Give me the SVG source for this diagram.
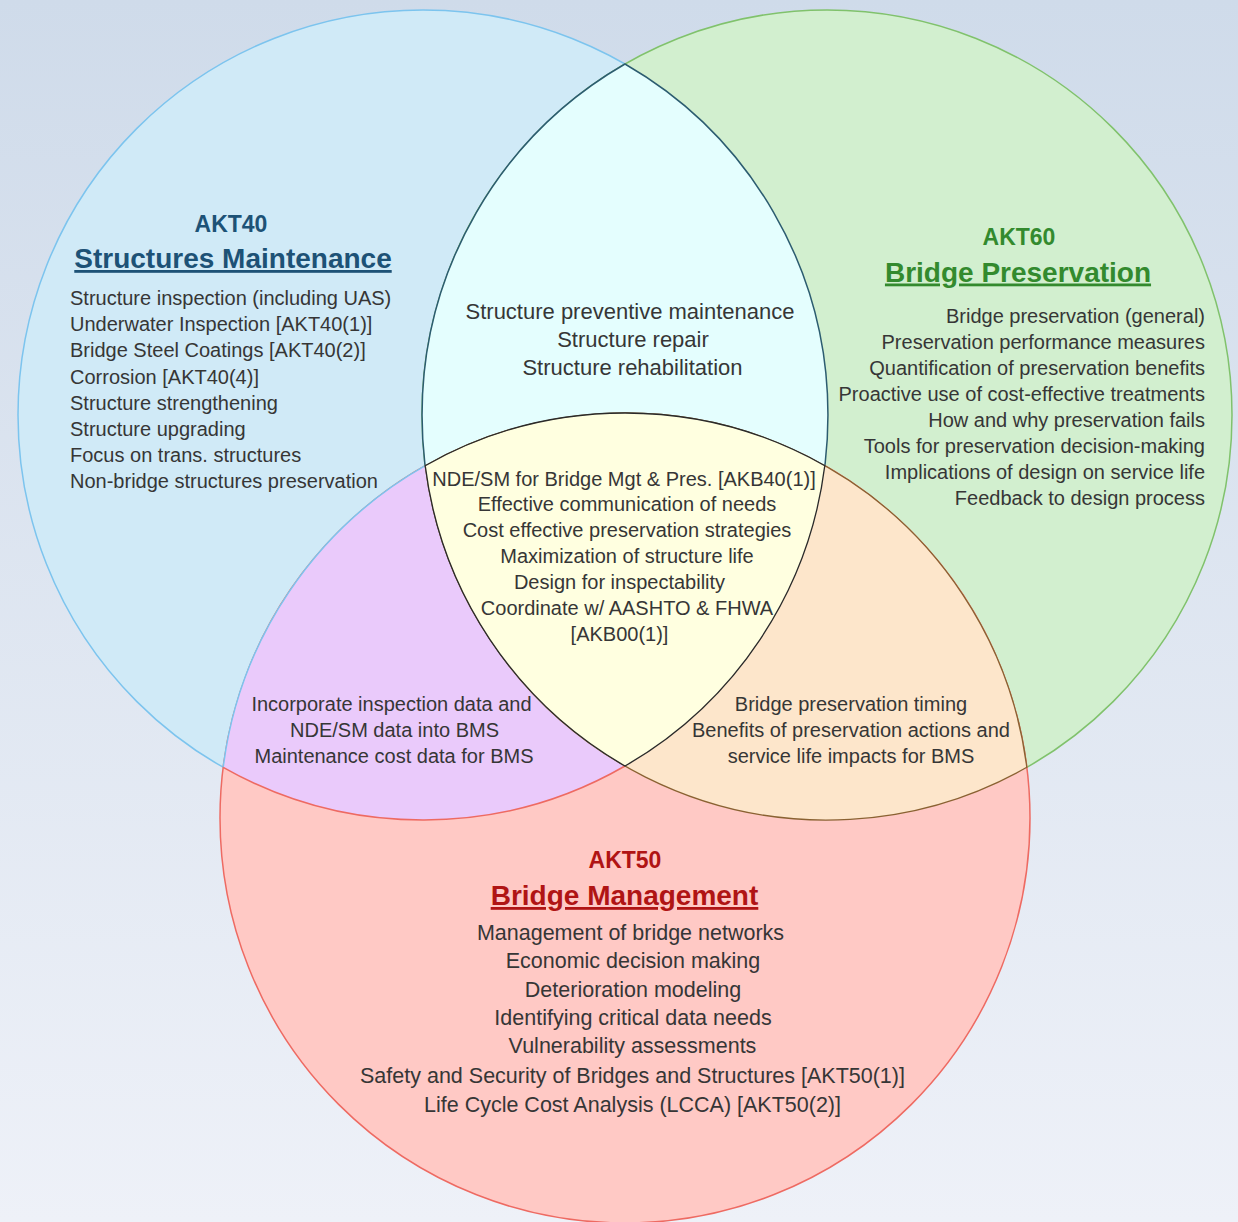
<svg xmlns="http://www.w3.org/2000/svg" width="1238" height="1222" viewBox="0 0 1238 1222">
<defs>
<linearGradient id="bg" x1="0" y1="0" x2="0" y2="1">
<stop offset="0" stop-color="#cfdbea"/>
<stop offset="1" stop-color="#eef1f8"/>
</linearGradient>
<style>
.t{font-family:"Liberation Sans",Arial,sans-serif;font-size:20px;fill:#363636}
.big{font-size:22px}
.mid{font-size:21.5px}
.m{text-anchor:middle}
.e{text-anchor:end}
.h1{font-family:"Liberation Sans",Arial,sans-serif;font-weight:bold;font-size:23px;text-anchor:middle}
.h2{font-family:"Liberation Sans",Arial,sans-serif;font-weight:bold;font-size:28px;text-anchor:middle;text-decoration:underline}
.blue{fill:#1d5276}
.green{fill:#338a2e}
.red{fill:#b01414}
</style>
</defs>
<rect x="0" y="0" width="1238" height="1222" fill="url(#bg)"/>

<g id="akt40">
<circle cx="423" cy="415" r="405" fill="#d0eaf7" stroke="#7cc4ee" stroke-width="1.5"/>
</g>
<g id="akt60">
<circle cx="827" cy="415" r="405" fill="#d2efcf" stroke="#80c26c" stroke-width="1.5"/>
</g>
<g id="akt50">
<circle cx="625" cy="818" r="405" fill="#ffc9c5" stroke="#ee6a62" stroke-width="1.5"/>
</g>

<g id="akt40-akt60">
<path d="M625 64 A405 405 0 0 1 625 766 A405 405 0 0 1 625 64 Z" fill="#e4fefe" stroke="#2c5c70" stroke-width="1.5"/>
</g>
<g id="akt40-akt50">
<path d="M223.2 767.3 A405 405 0 0 1 824.8 465.7 A405 405 0 0 1 223.2 767.3 Z" fill="#eacafb"/>
<path d="M223.2 767.3 A405 405 0 0 1 425.2 465.7" fill="none" stroke="#7cc4ee" stroke-width="1.5"/>
<path d="M625 766 A405 405 0 0 1 223.2 767.3" fill="none" stroke="#ee6a62" stroke-width="1.5"/>
</g>
<g id="akt60-akt50">
<path d="M425.2 465.7 A405 405 0 0 1 1026.8 767.3 A405 405 0 0 1 425.2 465.7 Z" fill="#fde6cb" stroke="#8a6232" stroke-width="1.3"/>
</g>
<g id="center">
<path d="M425.2 465.7 A405 405 0 0 1 824.8 465.7 A405 405 0 0 1 625 766 A405 405 0 0 1 425.2 465.7 Z" fill="#ffffe0" stroke="#2a2a2a" stroke-width="1.3"/>
</g>

<g id="akt40-text">
<text class="h1 blue" x="231" y="231.5">AKT40</text>
<text class="h2 blue" x="233" y="268">Structures Maintenance</text>
<text class="t" x="70" y="305">Structure inspection (including UAS)</text>
<text class="t" x="70" y="331">Underwater Inspection [AKT40(1)]</text>
<text class="t" x="70" y="357">Bridge Steel Coatings [AKT40(2)]</text>
<text class="t" x="70" y="383.5">Corrosion [AKT40(4)]</text>
<text class="t" x="70" y="409.5">Structure strengthening</text>
<text class="t" x="70" y="436">Structure upgrading</text>
<text class="t" x="70" y="462">Focus on trans. structures</text>
<text class="t" x="70" y="488">Non-bridge structures preservation</text>
</g>

<g id="akt60-text">
<text class="h1 green" x="1019" y="245">AKT60</text>
<text class="h2 green" x="1018" y="281.5">Bridge Preservation</text>
<text class="t e" x="1205" y="323">Bridge preservation (general)</text>
<text class="t e" x="1205" y="349">Preservation performance measures</text>
<text class="t e" x="1205" y="375">Quantification of preservation benefits</text>
<text class="t e" x="1205" y="401">Proactive use of cost-effective treatments</text>
<text class="t e" x="1205" y="427">How and why preservation fails</text>
<text class="t e" x="1205" y="453">Tools for preservation decision-making</text>
<text class="t e" x="1205" y="479">Implications of design on service life</text>
<text class="t e" x="1205" y="505">Feedback to design process</text>
</g>

<g id="akt40-akt60-text">
<text class="t big m" x="630" y="319">Structure preventive maintenance</text>
<text class="t big m" x="633" y="347">Structure repair</text>
<text class="t big m" x="632.5" y="375">Structure rehabilitation</text>
</g>

<g id="center-text">
<text class="t m" x="624" y="486">NDE/SM for Bridge Mgt &amp; Pres. [AKB40(1)]</text>
<text class="t m" x="627" y="511">Effective communication of needs</text>
<text class="t m" x="627" y="537">Cost effective preservation strategies</text>
<text class="t m" x="627" y="563">Maximization of structure life</text>
<text class="t m" x="619.5" y="588.5">Design for inspectability</text>
<text class="t m" x="627" y="615">Coordinate w/ AASHTO &amp; FHWA</text>
<text class="t m" x="619.5" y="640.5">[AKB00(1)]</text>
</g>

<g id="akt40-akt50-text">
<text class="t m" x="391.5" y="711">Incorporate inspection data and</text>
<text class="t m" x="394.5" y="737">NDE/SM data into BMS</text>
<text class="t m" x="394" y="763">Maintenance cost data for BMS</text>
</g>

<g id="akt60-akt50-text">
<text class="t m" x="851" y="711">Bridge preservation timing</text>
<text class="t m" x="851" y="737">Benefits of preservation actions and</text>
<text class="t m" x="851" y="763">service life impacts for BMS</text>
</g>

<g id="akt50-text">
<text class="h1 red" x="625" y="868">AKT50</text>
<text class="h2 red" x="624.5" y="905">Bridge Management</text>
<text class="t mid m" x="630.5" y="940">Management of bridge networks</text>
<text class="t mid m" x="633" y="968">Economic decision making</text>
<text class="t mid m" x="633" y="996.5">Deterioration modeling</text>
<text class="t mid m" x="633" y="1025">Identifying critical data needs</text>
<text class="t mid m" x="632.5" y="1053">Vulnerability assessments</text>
<text class="t mid m" x="632.5" y="1083">Safety and Security of Bridges and Structures [AKT50(1)]</text>
<text class="t mid m" x="632.5" y="1111.5">Life Cycle Cost Analysis (LCCA) [AKT50(2)]</text>
</g>
</svg>
